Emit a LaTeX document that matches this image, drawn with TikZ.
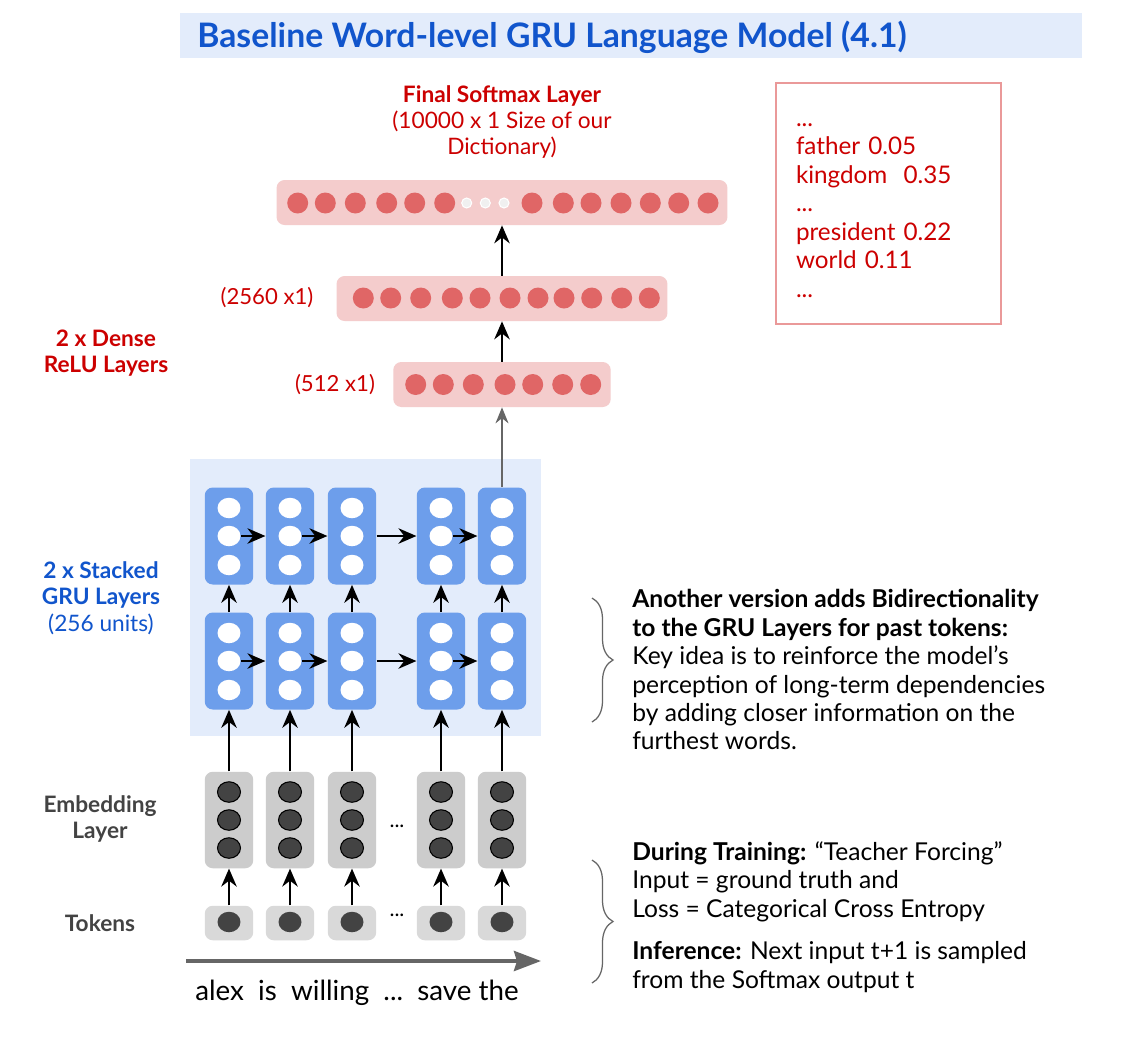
\documentclass[tikz,border=0pt]{standalone}
\usepackage{fontspec}
\setmainfont{Lato}
\usepackage{tikz}
\usetikzlibrary{arrows.meta, shapes.geometric, decorations.pathreplacing}

\definecolor{txtred}{HTML}{CC0000}
\definecolor{txtblue}{HTML}{1155CC}
\definecolor{txtgray}{HTML}{434343}
\definecolor{barfill}{HTML}{F4CCCC}
\definecolor{reddot}{HTML}{E06666}
\definecolor{grufill}{HTML}{6D9EEB}
\definecolor{paleblue}{HTML}{E3ECFB}
\definecolor{boxline}{HTML}{EA9999}
\definecolor{embfill}{HTML}{CCCCCC}
\definecolor{tokfill}{HTML}{D9D9D9}
\definecolor{arrowgray}{HTML}{666666}

\begin{document}
\begin{tikzpicture}[x=0.02cm, y=-0.02cm,
    lbl/.style={font=\fontsize{12.9}{15}\selectfont, align=center, inner sep=0pt},
    note/.style={font=\fontsize{14}{16.2}\selectfont, align=left, inner sep=0pt, anchor=north west},
    bar/.style={rectangle, rounded corners=1.6mm, fill=barfill, minimum height=9mm, inner sep=0pt},
    rdot/.style={circle, fill=reddot, minimum size=4.2mm, inner sep=0pt},
    wdot/.style={circle, fill=gray!12, draw=white, line width=0.6pt, minimum size=2mm, inner sep=0pt},
    cell/.style={rectangle, rounded corners=1.6mm, minimum width=9.7mm, inner sep=0pt},
    gru/.style={cell, fill=grufill, minimum height=19.4mm},
    emb/.style={cell, fill=embfill, minimum height=19.3mm},
    tok/.style={cell, fill=tokfill, minimum height=6.9mm},
    unit/.style={ellipse, minimum width=4.6mm, minimum height=4.1mm, inner sep=0pt},
    arr/.style={-{Stealth[length=3.6mm, width=3.1mm]}, line width=0.4mm},
    grayarr/.style={-{Stealth[length=3.2mm, width=2.6mm]}, line width=0.3mm, draw=arrowgray},
    timearr/.style={-{Stealth[length=5.4mm, width=4mm, inset=0.6mm]}, line width=0.8mm, draw=arrowgray},
    curly/.style={decorate, decoration={brace, amplitude=4.2mm}, draw=arrowgray, line width=0.25mm}]

  \path[use as bounding box, fill=white] (0,0) rectangle (1130,1056);

  % title
  \node[fill=paleblue, minimum width=180.4mm, minimum height=9mm, inner sep=0pt] (band) at (631,35.5) {};
  \node[anchor=west, inner sep=0pt, text=txtblue, font=\fontsize{19.2}{22}\selectfont\bfseries] (title) at (197,37)
    {Baseline Word-level GRU Language Model (4.1)};

  % softmax and dense layers
  \node[lbl, text=txtred] (smlbl) at (502,122) {\textbf{Final Softmax Layer}\\(10000 x 1 Size of our\\Dictionary)};
  \node[bar, minimum width=90.2mm] (softmax) at (502,202.5) {};
  \node[bar, minimum width=66.2mm] (dense2) at (502,298.5) {};
  \node[bar, minimum width=43.5mm] (dense1) at (502,384.5) {};
  \foreach \x [count=\i] in {297.7,325.3,355.3,386.7,414.7,444.7,532,563.3,591,621,650.3,678.7,708}
    \node[rdot] (s\i) at (\x,203) {};
  \foreach \x [count=\i] in {466.7,485.3,504}
    \node[wdot] (w\i) at (\x,203) {};
  \foreach \x [count=\i] in {363.3,390.7,420.7,452.3,480,510,538,564,591.7,621.7,649.3}
    \node[rdot] (p\i) at (\x,298) {};
  \foreach \x [count=\i] in {415.7,443.3,473.3,505,532.7,562.7,590.7}
    \node[rdot] (q\i) at (\x,384.5) {};
  \node[lbl, text=txtred, font=\fontsize{12.6}{14}\selectfont] (d2lbl) at (267,297.5) {(2560 x1)};
  \node[lbl, text=txtred, font=\fontsize{12.6}{14}\selectfont] (d1lbl) at (335,384.5) {(512 x1)};
  \draw[arr] (dense1.north) -- (dense2.south);
  \draw[arr] (dense2.north) -- (softmax.south);

  % probabilities
  \node[draw=boxline, line width=0.8pt, minimum width=45mm, minimum height=48.2mm] (probs) at (888.5,203.5) {};
  \node[text=txtred, align=left, text width=37mm, inner sep=0pt,
        font=\fontsize{13.8}{16.2}\selectfont] (probtxt) at ([yshift=-1.4mm]probs.center)
    {...\\father 0.05\\kingdom\ \ 0.35\\...\\president 0.22\\world 0.11\\...};

  % left labels
  \node[lbl, text=txtred, font=\fontsize{12.9}{15}\selectfont\bfseries] (denselbl) at (106,353) {2 x Dense\\ReLU Layers};
  \node[lbl, text=txtblue] (grulbl) at (101,598) {\textbf{2 x Stacked}\\\textbf{GRU Layers}\\(256 units)};
  \node[lbl, text=txtgray, font=\fontsize{12.9}{15}\selectfont\bfseries] (emblbl) at (100,819) {Embedding\\Layer};
  \node[lbl, text=txtgray, font=\fontsize{12.9}{15}\selectfont\bfseries] (toklbl) at (100,923) {Tokens};

  % recurrent part
  \node[fill=paleblue, minimum width=70.2mm, minimum height=55.3mm, inner sep=0pt] (grubg) at (365.5,597.5) {};
  \foreach \x [count=\i] in {229,290,352,441,502} {
    \node[tok] (k\i) at (\x,923) {};
    \node[unit, fill=txtgray] (k\i a) at (\x,922) {};
    \node[emb] (e\i) at (\x,820) {};
    \node[gru] (g\i) at (\x,661) {};
    \node[gru] (h\i) at (\x,536) {};
    \foreach \d/\o in {a/-28,b/0,c/28}
      \node[unit, fill=txtgray, draw=black, line width=0.6pt] (e\i\d) at (\x,{820+\o}) {};
    \foreach \d/\o in {a/-28,b/0,c/29} {
      \node[unit, fill=white] (g\i\d) at (\x,{661+\o}) {};
      \node[unit, fill=white] (h\i\d) at (\x,{536+\o}) {};
    }
    \draw[arr] (k\i) -- (e\i);
    \draw[arr] (e\i) -- (g\i);
    \draw[arr] (g\i) -- (h\i);
  }
  \foreach \r in {g,h} {
    \draw[arr] (\r1b.east) -- (\r2.west);
    \draw[arr] (\r2b.east) -- (\r3.west);
    \draw[arr] (\r3.east) -- (\r4.west);
    \draw[arr] (\r4b.east) -- (\r5.west);
  }
  \draw[grayarr] (h5.north) -- (dense1.south);
  \node[inner sep=0pt, font=\fontsize{12}{14}\selectfont] (edots) at (397,826) {...};
  \node[inner sep=0pt, font=\fontsize{12}{14}\selectfont] (kdots) at (397,915) {...};

  % time axis
  \coordinate (tstart) at (186,961);
  \coordinate (tend) at (541,961);
  \draw[timearr] (tstart) -- (tend);
  \node[font=\fontsize{15.8}{19}\selectfont, inner sep=0pt] (words) at (357,993)
    {alex\ \ is\ \ willing\ \ ...\ \ save the};

  % notes
  \coordinate (b1top) at (592,598);
  \coordinate (b1bot) at (592,722);
  \draw[curly] (b1top) -- (b1bot);
  \node[note] (bidir) at (632,589)
    {\textbf{Another version adds Bidirectionality}\\\textbf{to the GRU Layers for past tokens:}\\
     Key idea is to reinforce the model’s\\perception of long-term dependencies\\
     by adding closer information on the\\furthest words.};
  \coordinate (b2top) at (592,860);
  \coordinate (b2bot) at (592,983);
  \draw[curly] (b2top) -- (b2bot);
  \node[note] (training) at (632,841)
    {\textbf{During Training:} “Teacher Forcing”\\Input = ground truth and\\Loss = Categorical Cross Entropy\\[8pt]
     \textbf{Inference:} Next input t+1 is sampled\\from the Softmax output t};
\end{tikzpicture}
\end{document}
